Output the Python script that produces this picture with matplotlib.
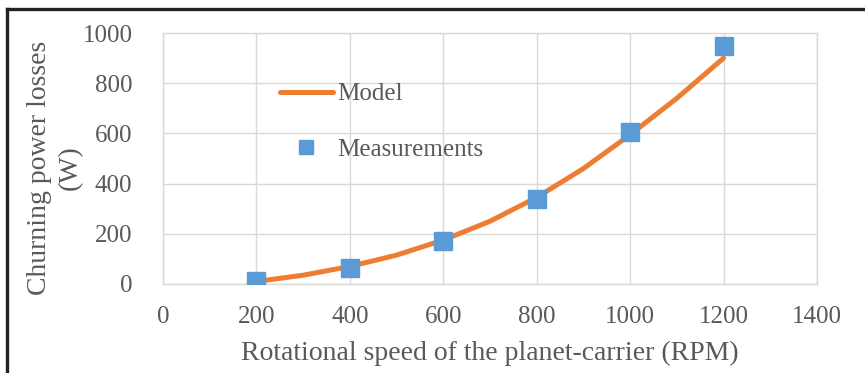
import matplotlib
matplotlib.use("Agg")
import matplotlib.pyplot as plt
from matplotlib.lines import Line2D

# Rotational speed of the planet-carrier (RPM) and churning losses (W)
model_rpm = [200, 300, 400, 500, 600, 700, 800, 900, 1000, 1100, 1200]
model_loss = [10, 35, 70, 115, 175, 250, 345, 460, 595, 740, 900]
meas_rpm = [200, 400, 600, 800, 1000, 1200]
meas_loss = [12, 64, 171, 339, 606, 948]

x_ticks = [0, 200, 400, 600, 800, 1000, 1200, 1400]
y_ticks = [0, 200, 400, 600, 800, 1000]

plt.rcParams['font.family'] = ['Liberation Serif', 'DejaVu Serif']
text_color = '#595959'
grid_color = '#d9d9d9'

W, H = 865, 373
fig = plt.figure(figsize=(W / 100, H / 100), dpi=100)
ax = fig.add_axes([163 / W, 1 - 284 / H, 654 / W, 251 / H])

ax.plot(model_rpm, model_loss, color='#ed7d31', lw=3.6, solid_capstyle='round',
        solid_joinstyle='round', label='Model', zorder=3)
ax.plot(meas_rpm, meas_loss, ls='none', marker='s', ms=12.5, color='#5b9bd5',
        label='Measurements', zorder=4)

ax.set_xlim(0, 1400)
ax.set_ylim(0, 1000)
ax.set_xticks(x_ticks)
ax.set_yticks(y_ticks)
ax.grid(True, color=grid_color, lw=1.0)
ax.set_axisbelow(True)
for s in ax.spines.values():
    s.set_color(grid_color)
    s.set_linewidth(1.0)
ax.tick_params(length=0, labelsize=18, colors=text_color)
ax.tick_params(axis='y', pad=22)
ax.tick_params(axis='x', pad=16)

fig.text(490 / W, 1 - 353 / H, 'Rotational speed of the planet-carrier (RPM)',
         fontsize=20, color=text_color, ha='center', va='center')
fig.text(55 / W, 1 - 168 / H, 'Churning power losses\n(W)', fontsize=20,
         color=text_color, ha='center', va='center', rotation=90,
         multialignment='center', linespacing=1.35)

leg = ax.legend(loc='upper left', bbox_to_anchor=((280 - 163) / 654, (284 - 83) / 251),
                frameon=False, fontsize=18, handlelength=2.1, handletextpad=0.2,
                labelspacing=1.3, borderpad=0, borderaxespad=0,
                labelcolor=text_color, markerscale=0.85)

# frame lines at the top and left of the figure
fig.add_artist(Line2D([7 / W, 7 / W], [0, 1 - 9 / H], color='#222222',
                      lw=2.4, transform=fig.transFigure))
fig.add_artist(Line2D([7 / W, 1], [1 - 9 / H, 1 - 9 / H], color='#222222',
                      lw=2.4, transform=fig.transFigure))

fig.savefig('out.png', dpi=100)
